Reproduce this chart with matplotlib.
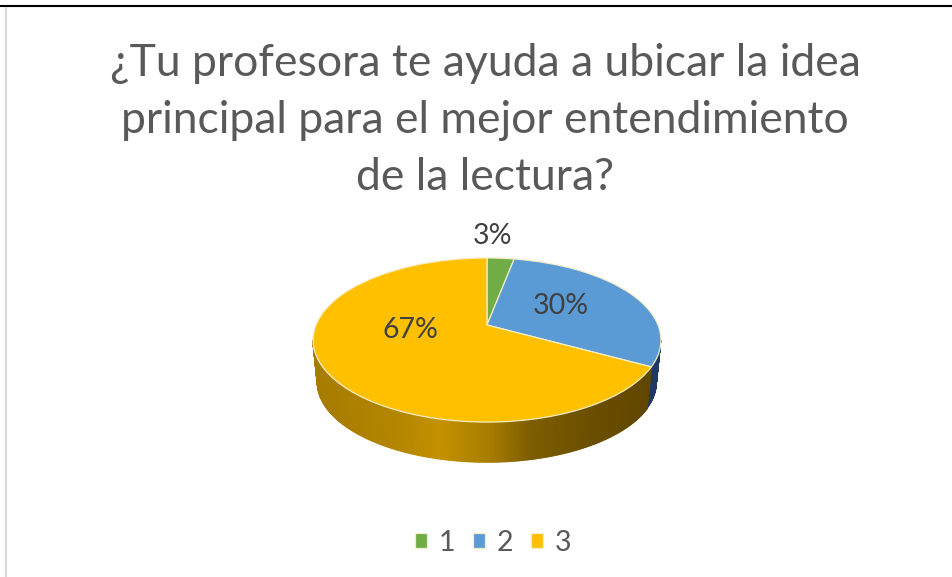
import numpy as np
import matplotlib
matplotlib.use("Agg")
import matplotlib.pyplot as plt
from matplotlib.transforms import Transform
from matplotlib.collections import PolyCollection
from matplotlib.colors import LinearSegmentedColormap

categories = ["1", "2", "3"]
values = [3, 30, 67]
labels = ["3%", "30%", "67%"]
colors = ["#70AD47", "#5B9BD5", "#FFC000"]
title = "¿Tu profesora te ayuda a ubicar la idea\nprincipal para el mejor entendimiento\nde la lectura?"

plt.rcParams['font.family'] = ['Lato', 'DejaVu Sans']
W, H = 953, 577
fig = plt.figure(figsize=(W / 100, H / 100), dpi=100)
ax = fig.add_axes([0, 0, 1, 1])

CX, CY, AX, AY, K = 487.0, 325.0, 171.0, 79.3, 0.183


def project(x, y, scale=1.0, drop=0.0):
    d = 1 + K * y
    return CX + scale * AX * x / d, CY - scale * AY * y / d + drop


class Perspective(Transform):
    input_dims = output_dims = 2
    is_separable = False
    has_inverse = False

    def transform_non_affine(self, v):
        v = np.asarray(v, dtype=float)
        px, py = project(v[:, 0], v[:, 1])
        return np.column_stack([px, py])


wedges, _ = ax.pie(values, colors=colors, startangle=90, counterclock=False,
                   wedgeprops=dict(edgecolor="#F3EDC8", linewidth=0.9, zorder=3))
ax.set_aspect("auto")
ax.set_xlim(0, W)
ax.set_ylim(H, 0)
ax.axis("off")
persp = Perspective() + ax.transData
for w in wedges:
    w.set_transform(persp)

# side wall of the disc
edges = np.cumsum([0] + values) / sum(values) * 2 * np.pi
vis0, vis1 = np.arccos(-K), 2 * np.pi - np.arccos(-K)
wall_cmap = LinearSegmentedColormap.from_list("wall", [
    (0.00, "#A67C00"), (0.25, "#B58700"), (0.36, "#C49200"), (0.50, "#A97E00"),
    (0.62, "#7F5E00"), (0.80, "#6B4F00"), (1.00, "#5E4500")])
SCALE, DROP = 0.975, 42.4


def wall_quads(a0, a1):
    th = np.linspace(a0, a1, 241)
    x, y = np.sin(th), np.cos(th)
    tx, ty = project(x, y)
    bx, by = project(x, y, SCALE, DROP)
    quads = [[(tx[i], ty[i]), (tx[i + 1], ty[i + 1]), (bx[i + 1], by[i + 1]), (bx[i], by[i])]
             for i in range(len(th) - 1)]
    return quads, (tx[:-1] + tx[1:]) / 2


q_blue, _ = wall_quads(vis0, edges[2])
ax.add_collection(PolyCollection(q_blue, facecolors="#1F3864", edgecolors="#1F3864",
                                 linewidths=0.3, zorder=2))
q_or, xm = wall_quads(edges[2], vis1)
fc = wall_cmap((xm - 313) / (661 - 313))
ax.add_collection(PolyCollection(q_or, facecolors=fc, edgecolors=fc, linewidths=1.0, zorder=2))

# percentage labels
label_pos = [(493, 236.5), (561, 305.5), (410, 330.5)]
for (lx, ly), t in zip(label_pos, labels):
    ax.text(lx, ly, t, fontsize=20.5, color="#404040", ha="center", va="center", zorder=5)

# title
ax.text(485, 120.5, title, fontsize=32, color="#595959", ha="center", va="center",
        linespacing=1.5, zorder=5)

# legend
ax.legend(wedges, categories, ncols=3, loc="center", bbox_to_anchor=(493 / W, 1 - 543 / H),
          bbox_transform=fig.transFigure, frameon=False, fontsize=20.5, labelcolor="#595959",
          handlelength=0.44, handleheight=0.44, handletextpad=0.4, columnspacing=0.62)

# frame lines of the screenshot
ax.plot([0, W], [6, 6], color="black", lw=1.5, zorder=6, solid_capstyle="butt")
ax.plot([6.5, 6.5], [7, H], color="#D9D9D9", lw=1.5, zorder=6, solid_capstyle="butt")

fig.savefig("out.png", dpi=100)
